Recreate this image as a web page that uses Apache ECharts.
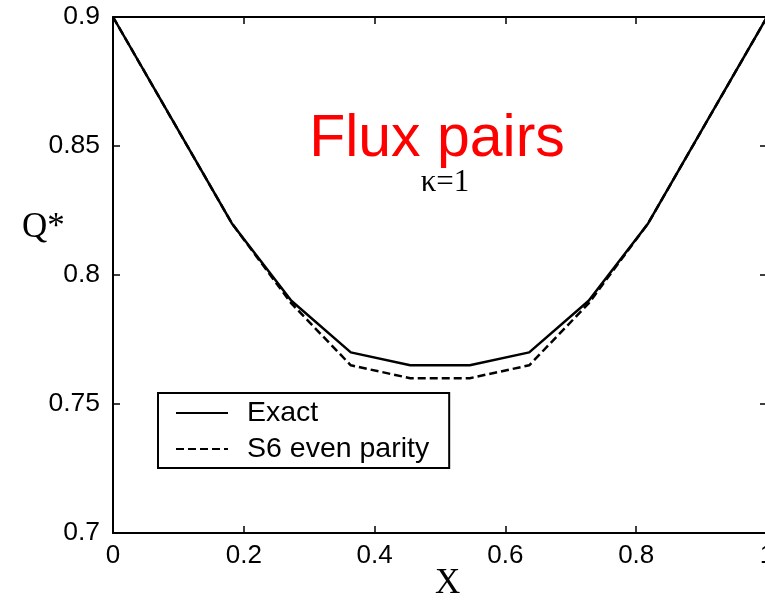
<!DOCTYPE html>
<html>
<head>
<meta charset="utf-8">
<script src="https://cdn.jsdelivr.net/npm/echarts@6/dist/echarts.min.js"></script>
<style>html,body{margin:0;padding:0;background:#fff;}#c{width:765px;height:602px;}</style>
</head>
<body>
<div id="c"></div>
<script>
const xValues = [0, 0.0909, 0.1818, 0.2727, 0.3636, 0.4545, 0.5455, 0.6364, 0.7273, 0.8182, 0.9091, 1];
const exactValues = [0.9, 0.86, 0.82, 0.79, 0.77, 0.765, 0.765, 0.77, 0.79, 0.82, 0.86, 0.9];
const s6Values = [0.9, 0.86, 0.82, 0.789, 0.765, 0.76, 0.76, 0.765, 0.789, 0.82, 0.86, 0.9];
const seriesNames = ['Exact', 'S6 even parity'];
const titleText = 'Flux pairs';
const subText = 'κ=1';
const xName = 'X';
const yName = 'Q*';

const chart = echarts.init(document.getElementById('c'), null, {renderer: 'canvas'});
const sans = 'Liberation Sans, Arial, sans-serif';
const serif = 'Liberation Serif, Times New Roman, serif';
const axisCommon = {
  axisLine: {show: true, onZero: false, lineStyle: {color: '#000', width: 2}},
  axisTick: {show: true, inside: true, length: 7, lineStyle: {color: '#000', width: 1.5}},
  splitLine: {show: false}
};
chart.setOption({
  backgroundColor: '#fff',
  animation: false,
  grid: {left: 113, top: 17, width: 654, height: 516, containLabel: false, outerBoundsMode: 'none'},
  title: [
    {text: titleText, left: 432, top: 105, textAlign: 'center',
     textStyle: {color: '#ff0000', fontFamily: sans, fontSize: 59, fontWeight: 'normal'}},
    {text: subText, left: 440, top: 162, textAlign: 'center',
     textStyle: {color: '#000', fontFamily: serif, fontSize: 31, fontWeight: 'normal'}}
  ],
  graphic: [
    {type: 'text', left: 22, top: 210, style: {text: yName, font: '35px ' + serif, fill: '#000'}},
    {type: 'text', left: 435, top: 566, style: {text: xName, font: '35px ' + serif, fill: '#000'}}
  ],
  legend: {
    data: seriesNames,
    orient: 'vertical',
    left: 158, top: 393,
    padding: [5, 20, 4, 17],
    itemGap: 6,
    itemWidth: 52, itemHeight: 14,
    itemStyle: {opacity: 0},
    borderColor: '#000', borderWidth: 2, borderRadius: 0,
    backgroundColor: '#fff',
    textStyle: {fontFamily: sans, fontSize: 28.5, lineHeight: 30, color: '#000', padding: [0, 0, 0, 14]}
  },
  xAxis: [
    Object.assign({type: 'value', min: 0, max: 1, interval: 0.2, position: 'bottom',
      axisLabel: {color: '#000', fontFamily: sans, fontSize: 26, margin: 10}}, axisCommon),
    Object.assign({type: 'value', min: 0, max: 1, interval: 0.2, position: 'top',
      axisLabel: {show: false}}, axisCommon)
  ],
  yAxis: [
    Object.assign({type: 'value', min: 0.7, max: 0.9, interval: 0.05, position: 'left',
      axisLabel: {color: '#000', fontFamily: sans, fontSize: 26.5, margin: 13}}, axisCommon),
    Object.assign({type: 'value', min: 0.7, max: 0.9, interval: 0.05, position: 'right',
      axisLabel: {show: false}}, axisCommon)
  ],
  series: [
    {name: seriesNames[0], type: 'line', symbol: 'none', z: 3,
     data: xValues.map((x, i) => [x, exactValues[i]]),
     lineStyle: {color: '#000', width: 2.5, type: 'solid'}, itemStyle: {color: '#000'}},
    {name: seriesNames[1], type: 'line', symbol: 'none', z: 2,
     data: xValues.map((x, i) => [x, s6Values[i]]),
     lineStyle: {color: '#000', width: 2.5, type: [8, 4]}, itemStyle: {color: '#000'}}
  ]
});
</script>
</body>
</html>
